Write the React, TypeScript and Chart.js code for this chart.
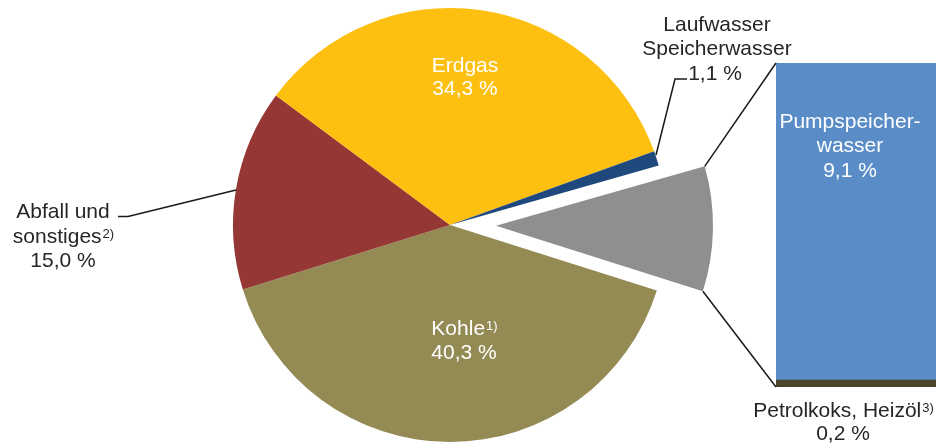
import React, { useEffect, useRef } from "react";
import { Chart, registerables } from "chart.js";

Chart.register(...registerables);

// ---- data ----
const pieCategories = ["Kohle", "Abfall und sonstiges", "Erdgas", "Laufwasser Speicherwasser", "Pumpspeicherwasser, Petrolkoks, Heizöl"];
const pieValues = [40.3, 15.0, 34.3, 1.1, 9.3];
const pieColors = ["#948A54", "#953735", "#FDC010", "#1F497D", "#8E8F91"];

const barCategories = ["Petrolkoks, Heizöl", "Pumpspeicherwasser"];
const barValues = [0.2, 9.1];
const barColors = ["#4A442A", "#5A8CC8"];

const pieValueLabels = ["40,3 %", "15,0 %", "34,3 %", "1,1 %"];
const barValueLabels = ["0,2 %", "9,1 %"];

const W = 936;
const H = 447;
const EXPLODE = 46;
const FONT = '"Liberation Sans", Arial, sans-serif';
const DARK = "#262626";
const LINE = "#1a1a1a";

function textLine(ctx: CanvasRenderingContext2D, main: string, sup: string, cx: number, baseline: number, color: string) {
  ctx.save();
  ctx.fillStyle = color;
  ctx.textBaseline = "alphabetic";
  ctx.textAlign = "left";
  ctx.font = `21px ${FONT}`;
  const mw = ctx.measureText(main).width;
  ctx.font = `13px ${FONT}`;
  const sw = sup ? ctx.measureText(sup).width : 0;
  const x0 = cx - (mw + sw) / 2;
  ctx.font = `21px ${FONT}`;
  ctx.fillText(main, x0, baseline);
  if (sup) {
    ctx.font = `13px ${FONT}`;
    ctx.fillText(sup, x0 + mw + 1, baseline - 5);
  }
  ctx.restore();
}

function polyline(ctx: CanvasRenderingContext2D, pts: number[][]) {
  ctx.save();
  ctx.strokeStyle = LINE;
  ctx.lineWidth = 1.5;
  ctx.beginPath();
  pts.forEach((p, i) => (i === 0 ? ctx.moveTo(p[0], p[1]) : ctx.lineTo(p[0], p[1])));
  ctx.stroke();
  ctx.restore();
}

function grayShift(el: any) {
  const mid = (el.startAngle + el.endAngle) / 2;
  return [Math.cos(mid) * EXPLODE, Math.sin(mid) * EXPLODE];
}

const explodePlugin = {
  id: "explode",
  afterUpdate(chart: any) {
    const el = chart.getDatasetMeta(0).data[4];
    if (!el || el._exploded) return;
    el._exploded = true;
    const orig = el.draw.bind(el);
    el.draw = function (ctx: CanvasRenderingContext2D, area: any) {
      const [dx, dy] = grayShift(el);
      ctx.save();
      ctx.translate(dx, dy);
      orig(ctx, area);
      ctx.restore();
    };
  },
};

const pieLabelPlugin = {
  id: "pieLabels",
  afterDraw(chart: any) {
    const ctx = chart.ctx as CanvasRenderingContext2D;
    const el = chart.getDatasetMeta(0).data[0];
    const cx = el.x;
    const cy = el.y;
    // inside labels
    textLine(ctx, "Erdgas", "", cx + 15, cy - 153, "#ffffff");
    textLine(ctx, pieValueLabels[2], "", cx + 15, cy - 130, "#ffffff");
    textLine(ctx, "Kohle", "1)", cx + 14, cy + 110, "#ffffff");
    textLine(ctx, pieValueLabels[0], "", cx + 14, cy + 134, "#ffffff");
    // Abfall outside label
    textLine(ctx, "Abfall und", "", 63, 218, DARK);
    textLine(ctx, "sonstiges", "2)", 63, 243, DARK);
    textLine(ctx, pieValueLabels[1], "", 63, 267, DARK);
    polyline(ctx, [[118, 216.5], [128, 216.5], [236, 190]]);
    // Laufwasser outside label
    textLine(ctx, "Laufwasser", "", 717, 31, DARK);
    textLine(ctx, "Speicherwasser", "", 717, 55, DARK);
    textLine(ctx, pieValueLabels[3], "", 715, 80, DARK);
    polyline(ctx, [[687, 79], [675, 79], [656, 155]]);
  },
};

export default function App() {
  const pieRef = useRef<HTMLCanvasElement | null>(null);
  const barRef = useRef<HTMLCanvasElement | null>(null);

  useEffect(() => {
    if (!pieRef.current || !barRef.current) return;
    const pie = new Chart(pieRef.current, {
      type: "pie",
      data: {
        labels: pieCategories,
        datasets: [
          {
            data: pieValues,
            backgroundColor: pieColors,
            borderWidth: 0,
          },
        ],
      },
      options: {
        responsive: false,
        animation: false,
        rotation: 107.6,
        radius: 217,
        layout: { padding: { left: 0, right: 36, top: 3, bottom: 0 } },
        plugins: { legend: { display: false }, tooltip: { enabled: false } },
      } as any,
      plugins: [explodePlugin, pieLabelPlugin],
    });

    const barPlugin = {
      id: "barLabels",
      afterDraw(chart: any) {
        const ctx = chart.ctx as CanvasRenderingContext2D;
        const top = chart.getDatasetMeta(1).data[0];
        const bottom = chart.getDatasetMeta(0).data[0];
        const left = top.x - top.width / 2;
        const topY = top.y;
        const botY = bottom.base;
        // connector lines from exploded gray slice to the bar
        const g: any = pie.getDatasetMeta(0).data[4];
        const [dx, dy] = grayShift(g);
        const R = g.outerRadius;
        const p1 = [g.x + dx + R * Math.cos(g.startAngle), g.y + dy + R * Math.sin(g.startAngle)];
        const p2 = [g.x + dx + R * Math.cos(g.endAngle), g.y + dy + R * Math.sin(g.endAngle)];
        polyline(ctx, [p1, [left, topY]]);
        polyline(ctx, [p2, [left, botY]]);
        // labels
        textLine(ctx, "Pumpspeicher-", "", 850, 128, "#ffffff");
        textLine(ctx, "wasser", "", 850, 152, "#ffffff");
        textLine(ctx, barValueLabels[1], "", 850, 177, "#ffffff");
        textLine(ctx, "Petrolkoks, Heizöl", "3)", 843, 417, DARK);
        textLine(ctx, barValueLabels[0], "", 843, 440, DARK);
      },
    };

    const barMax = barValues.reduce((a, b) => a + b, 0);
    const bar = new Chart(barRef.current, {
      type: "bar",
      data: {
        labels: [""],
        datasets: barValues.map((v, i) => ({
          label: barCategories[i],
          data: [v],
          backgroundColor: barColors[i],
          borderWidth: 0,
          barPercentage: 1,
          categoryPercentage: 1,
        })),
      },
      options: {
        responsive: false,
        animation: false,
        layout: { padding: { left: 776, right: 0, top: 63, bottom: 60 } },
        plugins: { legend: { display: false }, tooltip: { enabled: false } },
        scales: {
          x: { display: false, stacked: true },
          y: { display: false, stacked: true, min: 0, max: barMax },
        },
      },
      plugins: [barPlugin],
    });

    return () => {
      bar.destroy();
      pie.destroy();
    };
  }, []);

  return (
    <div style={{ position: "absolute", left: 0, top: 0, width: W, height: H, background: "#ffffff" }}>
      <canvas ref={pieRef} width={W} height={H} style={{ position: "absolute", left: 0, top: 0, width: W, height: H }} />
      <canvas ref={barRef} width={W} height={H} style={{ position: "absolute", left: 0, top: 0, width: W, height: H }} />
    </div>
  );
}
